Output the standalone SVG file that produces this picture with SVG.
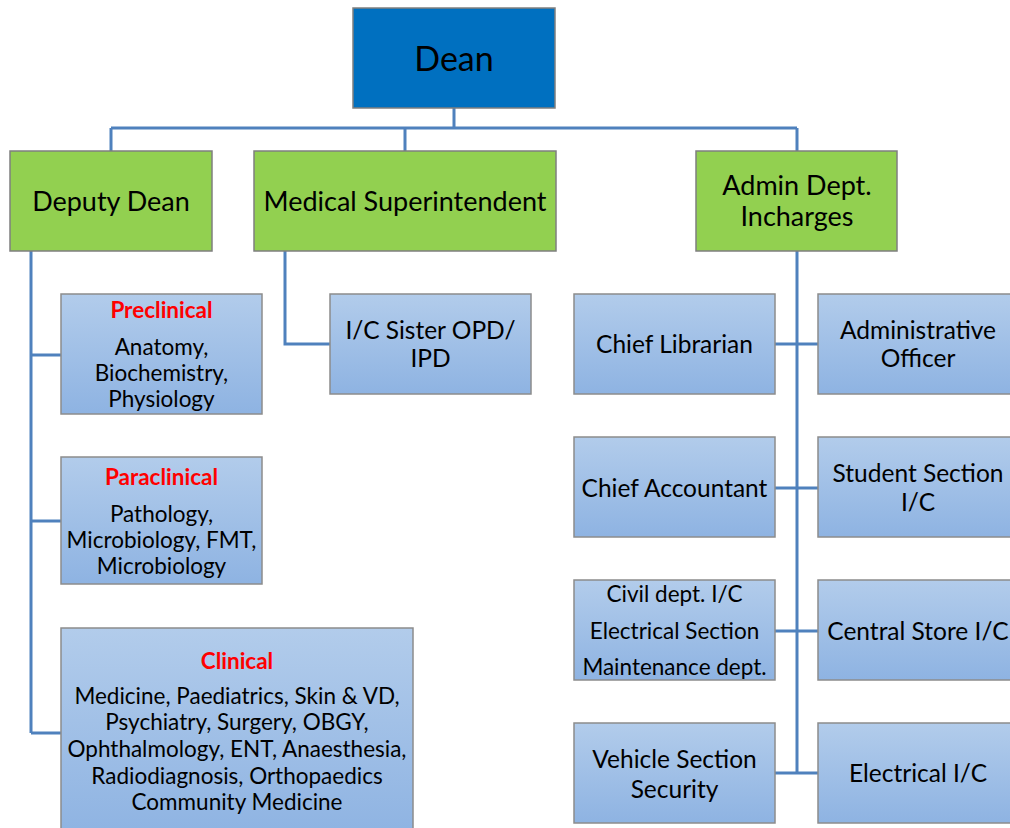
<svg xmlns="http://www.w3.org/2000/svg" width="1010" height="828" viewBox="0 0 1010 828">
<defs>
<linearGradient id="blue" x1="0" y1="0" x2="0" y2="1">
<stop offset="0" stop-color="#B2CCEB"/>
<stop offset="1" stop-color="#8EB3E2"/>
</linearGradient>
</defs>
<style>
text{font-family:Lato,"Open Sans","Liberation Sans",sans-serif;fill:#000;text-anchor:middle;dominant-baseline:central}
.bx{fill:url(#blue);stroke:#8C8C8C;stroke-width:1.5}
.gr{fill:#92D050;stroke:#7F7F7F;stroke-width:1.5}
.dn{fill:#0070C0;stroke:#7F7F7F;stroke-width:1.5}
.ln{fill:none;stroke:#4F81BD;stroke-width:3}
.t24{font-size:27px}
.t22{font-size:24.5px}
.t20{font-size:22.5px}
.hd{font-size:22.5px;font-weight:bold;fill:#FF0000}
</style>
<rect width="1010" height="828" fill="#fff"/>
<g id="connectors">
<path class="ln" d="M454 108V128M111 128H797M111 128V151M405 128V151M797 128V151"/>
<path class="ln" d="M31 251V733M31 355H61M31 521H61M31 733H61"/>
<path class="ln" d="M285 251V344H330"/>
<path class="ln" d="M797 251V773M775 344H818M775 488H818M775 631H818M775 773H818"/>
</g>
<g id="dean"><rect class="dn" x="353" y="8" width="202" height="100"/><text x="454" y="57" style="font-size:34px">Dean</text></g>
<g id="deputy-dean"><rect class="gr" x="10" y="151" width="202" height="100"/><text class="t24" x="111" y="200">Deputy Dean</text></g>
<g id="medical-superintendent"><rect class="gr" x="254" y="151" width="302" height="100"/><text class="t24" x="405" y="200">Medical Superintendent</text></g>
<g id="admin-dept"><rect class="gr" x="696" y="151" width="201" height="100"/><text class="t24" x="797" y="184">Admin Dept.</text><text class="t24" x="797" y="215">Incharges</text></g>
<g id="preclinical"><rect class="bx" x="61" y="294" width="201" height="120"/><text class="hd" x="161.5" y="309">Preclinical</text><text class="t20" x="161.5" y="346">Anatomy,</text><text class="t20" x="161.5" y="372">Biochemistry,</text><text class="t20" x="161.5" y="398">Physiology</text></g>
<g id="paraclinical"><rect class="bx" x="61" y="457" width="201" height="127"/><text class="hd" x="161.5" y="476">Paraclinical</text><text class="t20" x="161.5" y="513">Pathology,</text><text class="t20" x="161.5" y="539">Microbiology, FMT,</text><text class="t20" x="161.5" y="565">Microbiology</text></g>
<g id="clinical"><rect class="bx" x="61" y="628" width="352" height="210"/><text class="hd" x="237" y="660">Clinical</text><text class="t20" x="237" y="695">Medicine, Paediatrics, Skin &amp; VD,</text><text class="t20" x="237" y="721">Psychiatry, Surgery, OBGY,</text><text class="t20" x="237" y="748">Ophthalmology, ENT, Anaesthesia,</text><text class="t20" x="237" y="775">Radiodiagnosis, Orthopaedics</text><text class="t20" x="237" y="801">Community Medicine</text></g>
<g id="ic-sister"><rect class="bx" x="330" y="294" width="201" height="100"/><text class="t22" x="430.5" y="329">I/C Sister OPD/</text><text class="t22" x="430.5" y="357">IPD</text></g>
<g id="chief-librarian"><rect class="bx" x="574" y="294" width="201" height="100"/><text class="t22" x="674.5" y="343">Chief Librarian</text></g>
<g id="administrative-officer"><rect class="bx" x="818" y="294" width="202" height="100"/><text class="t22" x="918" y="329">Administrative</text><text class="t22" x="918" y="357">Officer</text></g>
<g id="chief-accountant"><rect class="bx" x="574" y="437" width="201" height="100"/><text class="t22" x="674.5" y="487">Chief Accountant</text></g>
<g id="student-section"><rect class="bx" x="818" y="437" width="202" height="100"/><text class="t22" x="918" y="472">Student Section</text><text class="t22" x="918" y="501">I/C</text></g>
<g id="civil-dept"><rect class="bx" x="574" y="580" width="201" height="100"/><text class="t20" x="674.5" y="593">Civil dept. I/C</text><text class="t20" x="674.5" y="630">Electrical Section</text><text class="t20" x="674.5" y="666">Maintenance dept.</text></g>
<g id="central-store"><rect class="bx" x="818" y="580" width="202" height="100"/><text class="t22" x="918" y="630">Central Store I/C</text></g>
<g id="vehicle-section"><rect class="bx" x="574" y="723" width="201" height="100"/><text class="t22" x="674.5" y="758">Vehicle Section</text><text class="t22" x="674.5" y="788">Security</text></g>
<g id="electrical-ic"><rect class="bx" x="818" y="723" width="202" height="100"/><text class="t22" x="918" y="772">Electrical I/C</text></g>
</svg>
